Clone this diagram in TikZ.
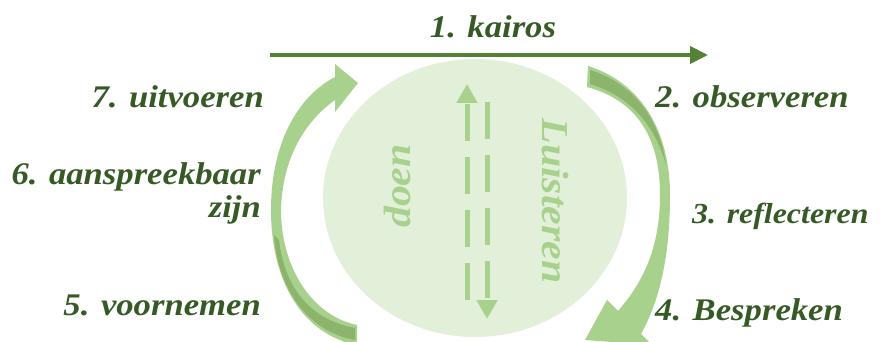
\documentclass[tikz,border=0pt]{standalone}
\usepackage{fontspec}
\usetikzlibrary{arrows.meta}
\newfontfamily\lblfont[FakeStretch=1.1]{Liberation Serif}
\definecolor{dkgreen}{HTML}{365A25}
\definecolor{arrgreen}{HTML}{538135}
\definecolor{ltgreen}{HTML}{A9D18E}
\definecolor{shgreen}{HTML}{8CB46C}
\definecolor{bggreen}{HTML}{E2F0D9}
\begin{document}
\begin{tikzpicture}[x=1pt,y=-1pt,
  lbl/.style={inner sep=0pt, text=dkgreen, font=\lblfont\bfseries\itshape\fontsize{31.5}{33}\selectfont},
  inlbl/.style={inner sep=0pt, text=ltgreen, font=\lblfont\bfseries\itshape\fontsize{38}{38}\selectfont},
  band/.style={fill=ltgreen, draw=none},
  shadeband/.style={fill=shgreen, draw=none},
  dashline/.style={draw=ltgreen, line width=5pt, dash pattern=on 37pt off 16pt},
]
\useasboundingbox (0,0) rectangle (885,342);
\clip (0,0) rectangle (885,342);

% central disc
\fill[bggreen] (475,198) ellipse [x radius=152pt, y radius=139pt];

% inner dashed arrows
\coordinate (uA) at (467,300);
\coordinate (uB) at (467,84);
\coordinate (dA) at (487,102);
\coordinate (dB) at (487,319);
\draw[dashline, -{Triangle[length=19pt,width=20pt]}] (uA) -- (uB);
\draw[dashline, -{Triangle[length=19pt,width=20pt]}] (dA) -- (dB);

% inner texts
\node[inlbl, rotate=90, anchor=base] (doen) at (410,186) {doen};
\node[inlbl, rotate=-90, anchor=base] (luist) at (542,201) {Luisteren};

% left curved arrow
\path[band] (357,345) .. controls (305,335) and (271,285) .. (271,210)
  .. controls (271,140) and (300,95) .. (335,77)
  -- (335,64) -- (358,83) -- (335,112) -- (335,100)
  .. controls (300,125) and (282,165) .. (281,210)
  .. controls (281,265) and (310,315) .. (357,325) -- cycle;
\path[shadeband] (274,235) .. controls (278,292) and (310,332) .. (355,340)
  -- (355,328) .. controls (312,320) and (285,290) .. (279,240) -- cycle;

% right curved arrow
\path[band] (588,66) .. controls (640,82) and (670,130) .. (670,195)
  .. controls (670,255) and (660,300) .. (641,334)
  -- (652,345) -- (585,340) -- (607,300) -- (618,311)
  .. controls (645,280) and (660,245) .. (660,195)
  .. controls (660,135) and (635,100) .. (587,87) -- cycle;
\path[shadeband] (590,70) .. controls (635,84) and (660,120) .. (666,165)
  .. controls (655,125) and (630,96) .. (590,84) -- cycle;

% kairos arrow
\coordinate (k0) at (270,55);
\coordinate (k1) at (708,55);
\draw[arrgreen, line width=4pt, -{Triangle[length=18pt,width=17pt]}] (k0) -- (k1);

% labels
\node[lbl, anchor=base] (l1) at (493,38) {1. kairos};
\node[lbl, anchor=base east] (l7) at (264,108) {7. uitvoeren};
\node[lbl, anchor=base east, align=right] (l6) at (261,217) {6. aanspreekbaar\\zijn};
\node[lbl, anchor=base east] (l5) at (261,315) {5. voornemen};
\node[lbl, anchor=base west] (l2) at (655,108) {2. observeren};
\node[lbl, anchor=base west, font=\lblfont\bfseries\itshape\fontsize{29}{33}\selectfont] (l3) at (692,223) {3. reflecteren};
\node[lbl, anchor=base west] (l4) at (655,320) {4. Bespreken};
\end{tikzpicture}
\end{document}
